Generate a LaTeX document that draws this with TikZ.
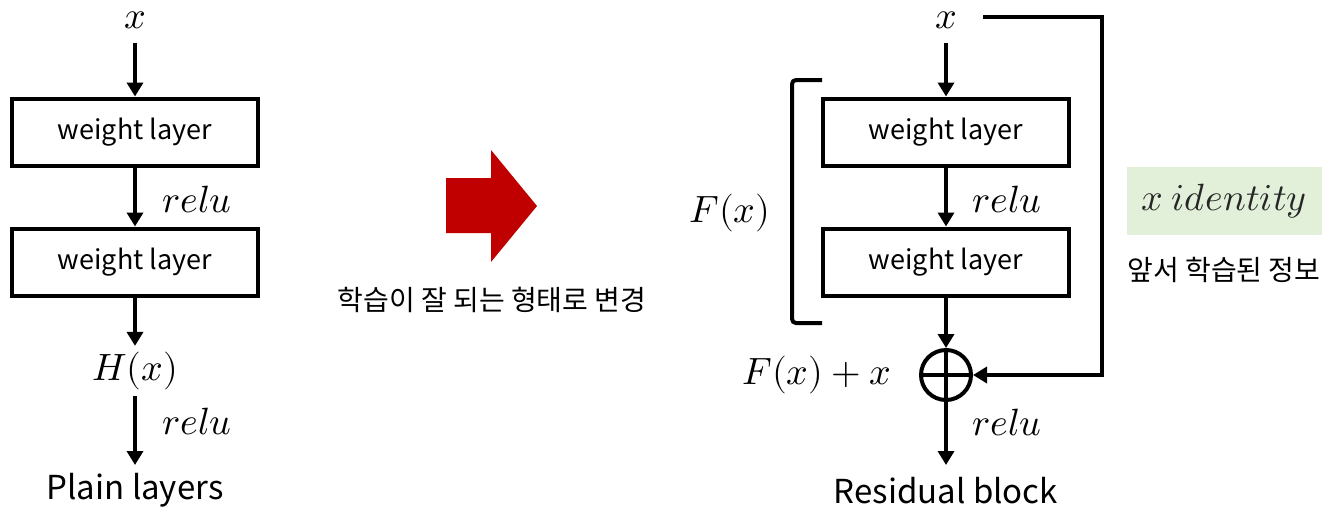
\documentclass[tikz,border=0pt]{standalone}
\usepackage{fontspec}
\usepackage{unicode-math}
\setmainfont{Noto Sans CJK KR}
\setmathfont{Latin Modern Math}
\usetikzlibrary{arrows.meta}
\definecolor{arrowred}{HTML}{C00000}
\definecolor{idgreen}{HTML}{E2F0D9}

\begin{document}
\begin{tikzpicture}[x=1pt, y=-1pt,
 layer/.style={draw, line width=4pt, minimum width=246pt, minimum height=67pt, inner sep=0pt, font=\fontsize{27}{32}\selectfont},
 mlabel/.style={inner sep=0pt, font=\fontsize{38}{44}\selectfont},
 caption/.style={inner sep=0pt, font=\fontsize{33}{38}\selectfont},
 note/.style={inner sep=0pt, font=\fontsize{28}{32}\selectfont},
 flow/.style={line width=4pt, -{Triangle[length=14pt,width=16pt]}}
]
\useasboundingbox (0,0) rectangle (1329,520);

% plain layers
\node (px) at (135,20) [mlabel] {$x$};
\node (pw1) at (135,132) [layer] {weight layer};
\node (pw2) at (135,262) [layer] {weight layer};
\node (ph) at (135,371) [mlabel] {$H(x)$};
\coordinate (pend) at (135,465);
\node (pcap) at (135,490) [caption] {Plain layers};
\draw[flow, shorten <=14pt] (px) -- (pw1);
\draw[flow] (pw1) -- (pw2);
\draw[flow, shorten >=6pt] (pw2) -- (ph);
\draw[flow, shorten <=6pt] (ph) -- (pend);
\node (pr1) at (197,200) [mlabel] {$relu$};
\node (pr2) at (197,422) [mlabel] {$relu$};

% change of form
\fill[arrowred] (446,178) -- (491,178) -- (491,150) -- (537,206) -- (491,262) -- (491,233) -- (446,233) -- cycle;
\node (chg) at (492,300) [note] {학습이 잘 되는 형태로 변경};

% residual block
\node (rx) at (946,20) [mlabel] {$x$};
\node (rw1) at (946,132) [layer] {weight layer};
\node (rw2) at (946,262) [layer] {weight layer};
\node (add) at (946,375) [circle, draw, line width=4pt, minimum size=50pt, inner sep=0pt] {};
\draw[line width=4pt] (add.north) -- (add.south) (add.west) -- (add.east);
\coordinate (rend) at (946,465);
\node (rcap) at (946,491) [caption] {Residual block};
\draw[flow, shorten <=14pt] (rx) -- (rw1);
\draw[flow] (rw1) -- (rw2);
\draw[flow] (rw2) -- (add);
\draw[flow] (add) -- (rend);
\node (rr1) at (1007,200) [mlabel] {$relu$};
\node (rr2) at (1007,423) [mlabel] {$relu$};

% shortcut
\coordinate (s0) at (983,17);
\coordinate (s1) at (1102,17);
\coordinate (s2) at (1102,375);
\draw[flow, miter limit=10] (s0) -- (s1) -- (s2) -- (add.east);

% bracket round F(x)
\draw[line width=4pt, rounded corners=4pt] (822,80) -- (792,80) -- (792,323) -- (822,323);
\node (fx) at (730,213) [mlabel] {$F(x)$};
\node (fxx) at (817,375) [mlabel] {$F(x)+x$};

% identity
\node (id) at (1224,201) [fill=idgreen, minimum width=195pt, minimum height=68pt, inner sep=0pt, text=black!85, font=\fontsize{38}{44}\selectfont] {$x\ identity$};
\node (prev) at (1224,270) [note] {앞서 학습된 정보};

\end{tikzpicture}
\end{document}
